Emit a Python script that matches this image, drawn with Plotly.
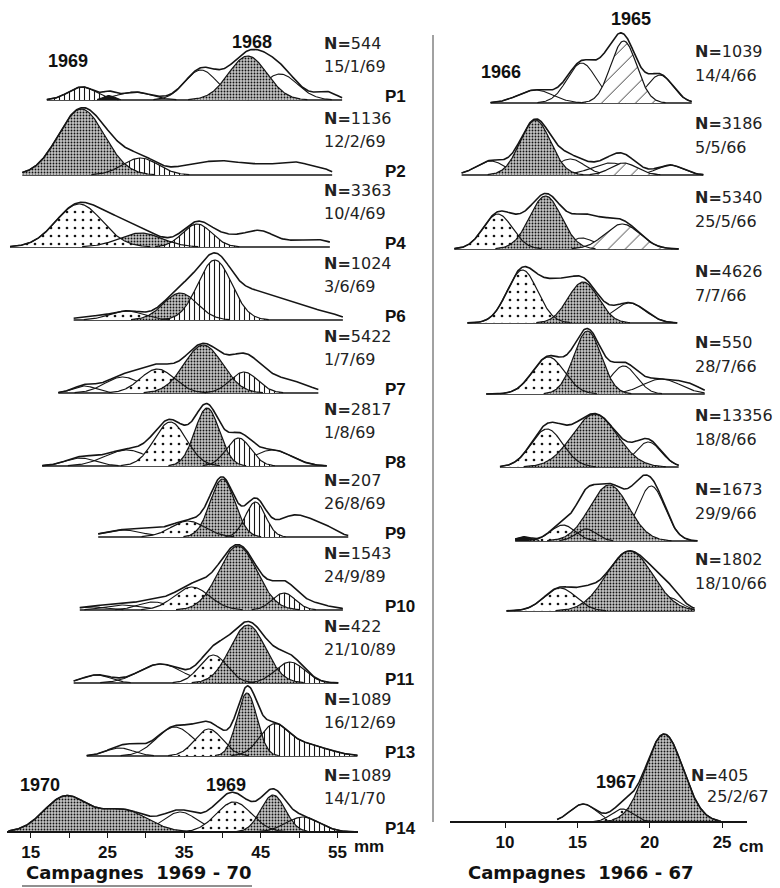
import numpy as np
import plotly.graph_objects as go

# ---------------- Left panel : Campagnes 1969-70 (length, mm) ----------------
left_rows = ["P1", "P2", "P4", "P6", "P7", "P8", "P9", "P10", "P11", "P13", "P14"]
left_N = [544, 1136, 3363, 1024, 5422, 2817, 207, 1543, 422, 1089, 1089]
left_dates = ["15/1/69", "12/2/69", "10/4/69", "3/6/69", "1/7/69", "1/8/69",
              "26/8/69", "24/9/89", "21/10/89", "16/12/69", "14/1/70"]
left_len_min = [17.1, 13.9, 12.3, 20.6, 18.6, 16.5, 23.8, 21.4, 20.6, 22.3, 12.1]
left_len_max = [55.6, 54.3, 54.0, 55.7, 52.5, 53.6, 56.4, 55.7, 55.1, 57.6, 57.5]

# modal components: row, mean length, std dev, peak frequency
left_comp_row = [0, 0, 0, 0, 0, 0, 0,
                 1, 1, 1, 1, 1, 1, 1, 1,
                 2, 2, 2, 2, 2, 2, 2, 2,
                 3, 3, 3, 3, 3, 3, 3,
                 4, 4, 4, 4, 4, 4, 4,
                 5, 5, 5, 5, 5, 5,
                 6, 6, 6, 6, 6, 6, 6,
                 7, 7, 7, 7, 7, 7, 7,
                 8, 8, 8, 8, 8, 8,
                 9, 9, 9, 9, 9, 9, 9, 9,
                 10, 10, 10, 10, 10, 10, 10]
left_comp_mean = [21.7, 25.2, 28.5, 37.2, 47.5, 53.5, 43.3,
                  25.5, 36.0, 40.0, 44.5, 49.5, 53.0, 29.3, 21.6,
                  26.0, 41.0, 45.0, 50.0, 53.0, 29.3, 21.3, 36.7,
                  22.5, 44.5, 50.0, 54.0, 27.5, 34.5, 39.0,
                  22.0, 27.0, 45.0, 50.0, 31.5, 42.8, 37.5,
                  21.5, 27.5, 46.5, 33.2, 42.1, 38.0,
                  27.0, 31.0, 49.5, 53.5, 35.5, 44.3, 40.0,
                  23.0, 27.0, 31.0, 49.5, 36.0, 48.0, 42.0,
                  23.6, 31.9, 47.0, 38.8, 48.8, 43.3,
                  26.6, 28.5, 33.8, 40.5, 38.2, 46.6, 50.5, 43.2,
                  34.5, 40.5, 19.5, 27.0, 41.5, 50.5, 46.6]
left_comp_sd = [1.8, 0.7, 2.2, 2.1, 2.3, 1.3, 2.5,
                2.0, 2.2, 2.2, 2.4, 2.2, 1.2, 2.3, 3.0,
                2.2, 2.5, 1.8, 2.5, 1.5, 2.8, 3.0, 1.9,
                1.8, 2.8, 2.5, 1.5, 2.2, 2.2, 2.2,
                1.5, 2.3, 3.0, 2.0, 2.2, 1.8, 2.5,
                2.0, 2.8, 2.5, 2.1, 1.6, 1.6,
                2.5, 1.8, 2.5, 1.5, 2.2, 1.3, 1.6,
                2.0, 2.2, 2.0, 3.2, 2.3, 1.5, 2.5,
                1.8, 2.8, 2.5, 1.8, 1.9, 2.3,
                1.8, 1.5, 2.4, 1.5, 1.8, 1.8, 3.0, 1.3,
                2.2, 2.5, 2.8, 3.2, 2.3, 2.2, 1.6]
left_comp_peak = [13, 4.5, 8, 30, 26, 8, 44,
                  8, 9, 11, 9, 12, 4, 17, 66,
                  12, 10, 13, 6, 4, 14, 43, 23,
                  3, 26, 12, 4, 9, 27, 60,
                  7, 16, 18, 6, 24, 21, 48,
                  8, 16, 16, 44, 28, 58,
                  7, 5, 22, 6, 16, 35, 58,
                  3, 5, 8, 10, 23, 17, 64,
                  8, 19, 6, 28, 21, 58,
                  8, 5, 29, 6, 27, 27, 12, 63,
                  20, 10, 35, 22, 30, 15, 37]
# drawing style of each component (fill texture)
left_comp_style = ["vert", "black", "line", "line", "line", "hidden", "dense",
                   "hidden", "hidden", "hidden", "hidden", "hidden", "hidden", "vert", "dense",
                   "hidden", "hidden", "hidden", "hidden", "hidden", "dense", "dots", "vert",
                   "hidden", "hidden", "hidden", "hidden", "dots", "dense", "vert",
                   "line", "line", "hidden", "hidden", "dots", "vert", "dense",
                   "line", "line", "line", "dots", "vert", "dense",
                   "line", "hidden", "hidden", "hidden", "dots", "vert", "dense",
                   "line", "line", "line", "hidden", "dots", "vert", "dense",
                   "line", "line", "hidden", "dots", "vert", "dense",
                   "line", "hidden", "line", "hidden", "dots", "vert", "vert_join", "dense",
                   "line", "hidden", "dense", "dense_join", "dots", "vert", "dense"]

# ---------------- Right panel : Campagnes 1966-67 (length, cm) ----------------
right_rows = ["P1", "P2", "P4", "P6", "P7", "P8", "P9", "P10", "P14"]
right_N = [1039, 3186, 5340, 4626, 550, 13356, 1673, 1802, 405]
right_dates = ["14/4/66", "5/5/66", "25/5/66", "7/7/66", "28/7/66", "18/8/66",
               "29/9/66", "18/10/66", "25/2/67"]
right_len_min = [9.0, 7.0, 6.5, 7.4, 8.7, 9.65, 10.7, 10.1, 13.6]
right_len_max = [22.9, 23.7, 22.0, 21.9, 23.8, 22.0, 23.3, 23.1, 24.9]

right_comp_row = [0, 0, 0, 0, 0,
                  1, 1, 1, 1, 1, 1,
                  2, 2, 2, 2, 2, 2,
                  3, 3, 3, 3,
                  4, 4, 4, 4, 4,
                  5, 5, 5,
                  6, 6, 6, 6, 6, 6, 6,
                  7, 7, 7, 7,
                  8, 8, 8]
right_comp_mean = [12.1, 15.3, 17.0, 20.7, 18.2,
                   9.0, 14.5, 17.3, 21.4, 18.2, 12.1,
                   11.0, 15.3, 15.8, 9.5, 12.8, 18.1,
                   13.4, 18.6, 11.2, 15.4,
                   18.2, 20.8, 22.8, 13.0, 15.7,
                   19.9, 12.9, 16.2,
                   15.5, 19.2, 20.1, 11.3, 14.0, 15.6, 17.2,
                   15.6, 21.2, 13.8, 18.6,
                   15.4, 18.1, 21.0]
right_comp_sd = [1.2, 1.0, 0.8, 0.9, 0.9,
                 1.0, 1.0, 1.3, 0.9, 0.9, 1.05,
                 0.8, 0.9, 1.3, 1.0, 1.1, 1.2,
                 1.0, 1.1, 1.05, 1.05,
                 0.9, 1.3, 0.8, 1.1, 0.95,
                 0.9, 1.1, 1.55,
                 0.6, 0.6, 0.95, 0.5, 0.85, 0.7, 1.35,
                 0.7, 0.9, 1.1, 1.6,
                 0.9, 0.75, 1.3]
right_comp_peak = [13, 40, 18, 28, 62,
                   14, 16, 12, 10, 12, 55,
                   10, 11, 20, 35, 53, 25,
                   32, 20, 53, 41,
                   28, 15, 6, 37, 63,
                   25, 38, 53,
                   10, 8, 55, 4, 16, 12, 56,
                   9, 14, 23, 60,
                   18, 13, 88]
right_comp_style = ["line", "line", "hidden", "line", "dash",
                    "line", "line", "line", "line", "dash", "dense",
                    "hidden", "line", "hidden", "dots", "dense", "dash",
                    "hidden", "line", "dots", "dense",
                    "line", "line", "hidden", "dots", "dense",
                    "line", "dots", "dense",
                    "hidden", "hidden", "line", "black", "dots", "dots", "dense",
                    "hidden", "line", "dots", "dense",
                    "line", "dots", "dense"]

# ---------------- layout constants (pixel positions) ----------------
W, H = 780, 888
left_base = [100, 175, 247, 320, 393, 466, 537, 610, 683, 756, 832]
right_base = [103, 175, 249, 323, 394, 467, 541, 611, 822]
INK = "#151515"

PATTERNS = {
    "dense": dict(shape=".", size=3, solidity=0.3, fgcolor="#111111", bgcolor="#c4c4c4", fgopacity=1),
    "dots": dict(shape=".", size=8, solidity=0.09, fgcolor=INK, bgcolor="white", fgopacity=1),
    "vert": dict(shape="|", size=5, solidity=0.22, fgcolor=INK, bgcolor="white", fgopacity=1),
    "dash": dict(shape="/", size=12, solidity=0.07, fgcolor=INK, bgcolor="white", fgopacity=1),
}


def normal_curve(x, m, s, h):
    return h * np.exp(-0.5 * ((x - m) / s) ** 2)


fig = go.Figure()


def draw_panel(xa, bases, xmin, xmax, crow, cmean, csd, cpeak, cstyle):
    for r, b in enumerate(bases):
        x = np.linspace(xmin[r], xmax[r], 400)
        idx = [i for i, rr in enumerate(crow) if rr == r]
        total = np.zeros_like(x)
        groups = []
        for i in idx:
            y = normal_curve(x, cmean[i], csd[i], cpeak[i])
            total = total + y
            st = cstyle[i]
            if st.endswith("_join"):
                groups[-1][1] = groups[-1][1] + y
            else:
                groups.append([st, y])
        # baseline of the row
        fig.add_trace(go.Scatter(x=[xmin[r], xmax[r]], y=[b, b], xaxis=xa, yaxis="y",
                                 mode="lines", line=dict(color=INK, width=1.3),
                                 hoverinfo="skip", showlegend=False))

        def span(y):
            ok = np.where(y > 0.35)[0]
            return ok[0], ok[-1] + 1

        # plain component curves (under the textures)
        for st, y in groups:
            if st == "line":
                a, e = span(y)
                fig.add_trace(go.Scatter(x=x[a:e], y=b - y[a:e], xaxis=xa, yaxis="y",
                                         mode="lines", line=dict(color=INK, width=1.1),
                                         hoverinfo="skip", showlegend=False))
        # textured components
        for st, y in groups:
            if st in PATTERNS or st == "black":
                a, e = span(y)
                xs = np.concatenate([x[a:e], x[a:e][::-1]])
                ys = np.concatenate([b - y[a:e], np.full(e - a, b)])
                kw = dict(x=xs, y=ys, xaxis=xa, yaxis="y", mode="lines", fill="toself",
                          line=dict(width=0, color=INK), hoverinfo="skip", showlegend=False)
                if st == "black":
                    kw["fillcolor"] = INK
                else:
                    kw["fillcolor"] = "white"
                    kw["fillpattern"] = PATTERNS[st]
                fig.add_trace(go.Scatter(**kw))
        for st, y in groups:
            if st in PATTERNS or st == "black":
                a, e = span(y)
                fig.add_trace(go.Scatter(x=x[a:e], y=b - y[a:e], xaxis=xa, yaxis="y",
                                         mode="lines", line=dict(color=INK, width=1.2),
                                         hoverinfo="skip", showlegend=False))
        # observed total distribution
        fig.add_trace(go.Scatter(x=x, y=b - total, xaxis=xa, yaxis="y", mode="lines",
                                 line=dict(color=INK, width=1.6),
                                 hoverinfo="skip", showlegend=False))


draw_panel("x", left_base, left_len_min, left_len_max, left_comp_row, left_comp_mean,
           left_comp_sd, left_comp_peak, left_comp_style)
draw_panel("x2", right_base, right_len_min, right_len_max, right_comp_row, right_comp_mean,
           right_comp_sd, right_comp_peak, right_comp_style)

# ---------------- text ----------------
ann = []
NUMFONT = dict(family="DejaVu Sans", size=16, color="#222")


def txt(px, py, s, font, xanchor="left"):
    ann.append(dict(x=px / W, y=py, xref="paper", yref="y", text=s, showarrow=False,
                    xanchor=xanchor, yanchor="middle", font=font))


for r, b in enumerate(left_base):
    txt(322, b - 57, "<b>N=</b>" + str(left_N[r]), NUMFONT)
    txt(322, b - 34, left_dates[r], NUMFONT)
    txt(383, b - 4, "<b>" + left_rows[r] + "</b>",
        dict(family="Liberation Sans", size=17, color="#111"))

for r, b in enumerate(right_base):
    if r == len(right_base) - 1:
        txt(689, 775, "<b>N=</b>" + str(right_N[r]), NUMFONT)
        txt(705, 796, right_dates[r], NUMFONT)
    else:
        txt(693, b - 52, "<b>N=</b>" + str(right_N[r]), NUMFONT)
        txt(693, b - 28, right_dates[r], NUMFONT)

YEARFONT = dict(family="Liberation Sans", size=18, color="#111")
for px, py, s in [(68, 61, "1969"), (252, 42, "1968"), (40, 785, "1970"), (226, 785, "1969"),
                  (501, 72, "1966"), (631, 19, "1965"), (616, 782, "1967")]:
    txt(px, py, "<b>" + s + "</b>", YEARFONT, xanchor="center")

txt(352, 846, "<b>mm</b>", dict(family="Liberation Sans", size=17, color="#111"))
txt(737, 846, "<b>cm</b>", dict(family="Liberation Sans", size=17, color="#111"))
CAPFONT = dict(family="DejaVu Sans", size=18, color="#111")
txt(24, 872, "<b>Campagnes  1969 - 70</b>", CAPFONT)
txt(466, 872, "<b>Campagnes  1966 - 67</b>", CAPFONT)

shapes = [
    dict(type="line", xref="paper", yref="y", x0=433 / W, x1=433 / W, y0=35, y1=822,
         line=dict(color="#444", width=1)),
    dict(type="line", xref="paper", yref="y", x0=22 / W, x1=252 / W, y0=886, y1=886,
         line=dict(color="#222", width=1.2)),
]

TICKFONT = dict(family="Liberation Sans", size=17, color="#111")
fig.update_layout(
    width=W, height=H, margin=dict(l=0, r=0, t=0, b=0),
    paper_bgcolor="white", plot_bgcolor="white", showlegend=False,
    annotations=ann, shapes=shapes,
    yaxis=dict(range=[H, 0], domain=[0, 1], visible=False, fixedrange=True),
    xaxis=dict(domain=[7 / W, 358 / W], range=[11.91, 57.67], anchor="free",
               position=1 - 832 / H, showline=True, linecolor=INK, linewidth=1.5,
               showgrid=False, zeroline=False, ticks="outside", ticklen=5, tickcolor=INK,
               tickvals=[15, 20, 25, 30, 35, 40, 45, 50, 55],
               ticktext=["<b>15</b>", "", "<b>25</b>", "", "<b>35</b>", "", "<b>45</b>", "",
                         "<b>55</b>"],
               tickfont=TICKFONT, automargin=False),
    xaxis2=dict(domain=[450 / W, 747 / W], range=[6.199, 26.72], anchor="free",
                position=1 - 822 / H, showline=True, linecolor=INK, linewidth=1.5,
                showgrid=False, zeroline=False, ticks="outside", ticklen=5, tickcolor=INK,
                tickvals=[10, 15, 20, 25],
                ticktext=["<b>10</b>", "<b>15</b>", "<b>20</b>", "<b>25</b>"],
                tickfont=TICKFONT, automargin=False),
)

fig.write_html("out.html")
